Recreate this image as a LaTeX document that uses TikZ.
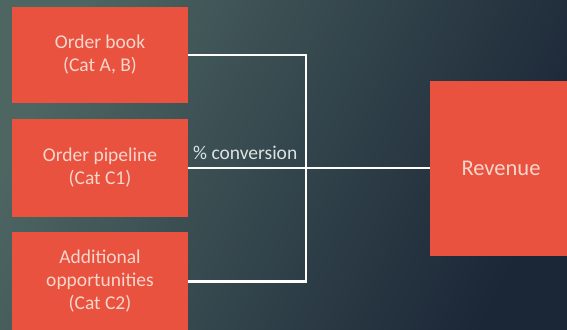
\documentclass[tikz,border=0pt]{standalone}
\usepackage{fontspec}
\setmainfont{Carlito}
\definecolor{boxred}{HTML}{E8523F}
\definecolor{boxtext}{HTML}{F8D6CC}
\definecolor{convtext}{HTML}{DCE2E2}
\definecolor{bgA}{HTML}{4D6662}
\definecolor{bgB}{HTML}{1B2637}
\begin{document}
\begin{tikzpicture}[x=1pt,y=-1pt,
  box/.style={fill=boxred, draw=none, minimum width=176pt, inner sep=0pt,
    text=boxtext, align=center, font=\fontsize{19.5}{23}\selectfont},
  conn/.style={draw=white, line width=2.8pt}]
\useasboundingbox (0,0) rectangle (567,329);
\shade[top color=bgA, bottom color=bgB, shading angle=65] (-5,-5) rectangle (572,334);
\node[box, minimum height=96pt] (ob) at (100,55) {Order book\\(Cat A, B)};
\node[box, minimum height=98pt] (pipe) at (100,168) {Order pipeline\\(Cat C1)};
\node[box, minimum height=99pt] (opp) at (100,281.5) {Additional\\opportunities\\(Cat C2)};
\node[box, minimum width=142pt, minimum height=175pt, font=\fontsize{22.5}{26}\selectfont] (rev) at (501,168) {\raisebox{-1.5pt}{Revenue}};
\coordinate (j1) at (306,55);
\coordinate (j3) at (306,281.5);
\draw[conn] (ob.east) -- (j1) -- (j3) -- (opp.east);
\draw[conn] (pipe.east) -- (rev.west);
\node[anchor=base west, inner sep=0pt, text=convtext, font=\fontsize{19.5}{22}\selectfont] (conv) at (193,159) {\% conversion};
\end{tikzpicture}
\end{document}
